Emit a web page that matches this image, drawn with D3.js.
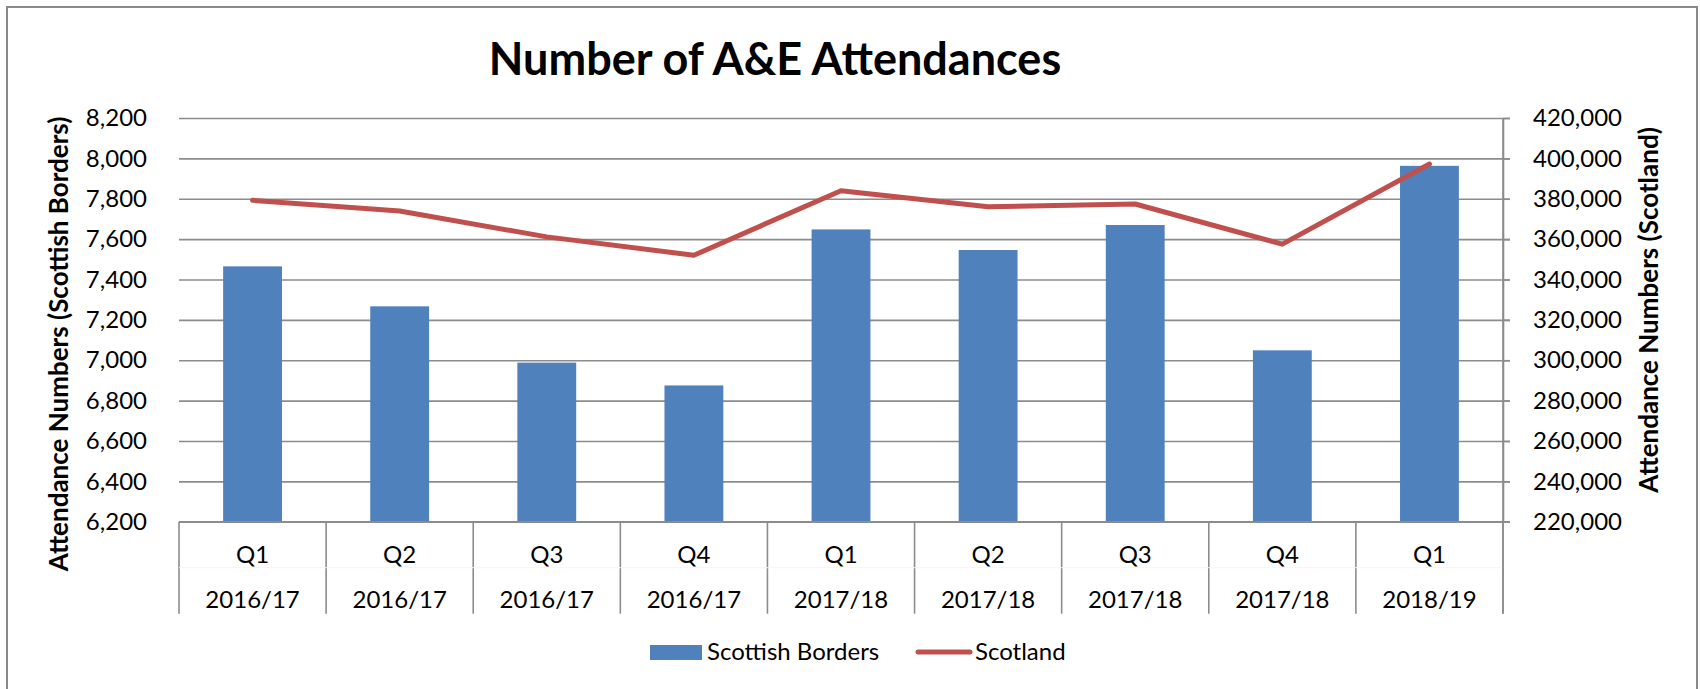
<!DOCTYPE html>
<html>
<head>
<meta charset="utf-8">
<script src="https://cdn.jsdelivr.net/npm/d3@7"></script>
<style>
  body { margin: 0; background: #fff; }
  text { font-family: Lato, "Open Sans", sans-serif; fill: #000; }
</style>
</head>
<body>
<div id="my_dataviz"></div>
<script>
// data
const quarters = ["Q1", "Q2", "Q3", "Q4", "Q1", "Q2", "Q3", "Q4", "Q1"];
const years = ["2016/17", "2016/17", "2016/17", "2016/17", "2017/18", "2017/18", "2017/18", "2017/18", "2018/19"];
const bordersValues = [7465, 7267, 6988, 6875, 7648, 7546, 7670, 7049, 7963];
const scotlandValues = [379200, 373900, 361100, 352000, 384000, 376000, 377400, 357500, 397200];
const leftTicks = [6200, 6400, 6600, 6800, 7000, 7200, 7400, 7600, 7800, 8000, 8200];
const rightTicks = [220000, 240000, 260000, 280000, 300000, 320000, 340000, 360000, 380000, 400000, 420000];

const W = 1700, H = 689;
const margin = { top: 118, right: 197, bottom: 167.3, left: 179 },
    width = W - margin.left - margin.right,
    height = H - margin.top - margin.bottom;

const svg = d3.select("#my_dataviz")
    .append("svg")
    .attr("width", W)
    .attr("height", H);

// chart border
svg.append("rect")
    .attr("x", 7).attr("y", 7)
    .attr("width", W - 10).attr("height", H + 20)
    .attr("fill", "none")
    .attr("stroke", "#898989")
    .attr("stroke-width", 2);

// title
svg.append("text")
    .attr("x", 775).attr("y", 75)
    .attr("text-anchor", "middle")
    .style("font-weight", "bold")
    .style("font-size", "45px")
    .text("Number of A&E Attendances");

const g = svg.append("g")
    .attr("transform", `translate(${margin.left},${margin.top})`);

const keys = quarters.map((q, i) => q + " " + years[i]);

const x = d3.scaleBand()
    .domain(keys)
    .range([0, width])
    .padding(0);

const yL = d3.scaleLinear()
    .domain([6200, 8200])
    .range([height, 0]);

const yR = d3.scaleLinear()
    .domain([220000, 420000])
    .range([height, 0]);

const fmt = d3.format(",");

// gridlines (they run past the right axis as its outer ticks)
g.append("g")
    .attr("class", "grid")
    .call(d3.axisLeft(yL).tickValues(leftTicks).tickSize(-width - 7).tickFormat(""))
    .call(a => a.select(".domain").remove())
    .call(a => a.selectAll("line").attr("stroke", "#8c8c8c").attr("stroke-width", 1.6));

// left axis labels
g.append("g")
    .call(d3.axisLeft(yL).tickValues(leftTicks).tickSize(0).tickPadding(32).tickFormat(fmt))
    .call(a => a.select(".domain").remove())
    .call(a => a.selectAll("text").style("font-size", "24px").style("font-family", "Lato"));

// bars
const barW = x.bandwidth() / 2.5;
g.append("g")
    .selectAll("rect")
    .data(bordersValues)
    .join("rect")
    .attr("x", (d, i) => x(keys[i]) + (x.bandwidth() - barW) / 2)
    .attr("y", d => yL(d))
    .attr("width", barW)
    .attr("height", d => height - yL(d))
    .attr("fill", "#4f81bd");

// category box below the plot
const boxH = 92;
const bounds = keys.map(k => x(k)).concat([width]);
g.append("g")
    .selectAll("line")
    .data(bounds)
    .join("line")
    .attr("x1", d => d).attr("x2", d => d)
    .attr("y1", height).attr("y2", height + boxH)
    .attr("stroke", "#8c8c8c")
    .attr("stroke-width", 1.6);

g.append("line")
    .attr("x1", 0).attr("x2", width)
    .attr("y1", height + 46).attr("y2", height + 46)
    .attr("stroke", "#f4f4f4")
    .attr("stroke-width", 1);

g.append("line")
    .attr("x1", 0).attr("x2", width + 7)
    .attr("y1", height).attr("y2", height)
    .attr("stroke", "#8c8c8c")
    .attr("stroke-width", 1.6);

const cats = g.append("g")
    .selectAll("g")
    .data(keys)
    .join("g")
    .attr("transform", d => `translate(${x(d) + x.bandwidth() / 2},${height})`);

cats.append("text")
    .attr("y", 33)
    .attr("dy", "0.35em")
    .attr("text-anchor", "middle")
    .style("font-size", "24px")
    .text((d, i) => quarters[i]);

cats.append("text")
    .attr("y", 78)
    .attr("dy", "0.35em")
    .attr("text-anchor", "middle")
    .style("font-size", "24px")
    .text((d, i) => years[i]);

// right axis
g.append("g")
    .attr("transform", `translate(${width},0)`)
    .call(d3.axisRight(yR).tickValues(rightTicks).tickSize(7).tickSizeOuter(0).tickPadding(23).tickFormat(fmt))
    .call(a => a.select(".domain").attr("stroke", "#8c8c8c").attr("stroke-width", 1.6))
    .call(a => a.selectAll("line").attr("stroke", "#8c8c8c").attr("stroke-width", 1.6))
    .call(a => a.selectAll("text").style("font-size", "24px").style("font-family", "Lato"));

g.append("line")
    .attr("x1", width).attr("x2", width)
    .attr("y1", 0).attr("y2", height + boxH)
    .attr("stroke", "#8c8c8c")
    .attr("stroke-width", 1.6);

// Scotland line
const line = d3.line()
    .x((d, i) => x(keys[i]) + x.bandwidth() / 2)
    .y(d => yR(d));

g.append("path")
    .datum(scotlandValues)
    .attr("d", line)
    .attr("fill", "none")
    .attr("stroke", "#c0504d")
    .attr("stroke-width", 5)
    .attr("stroke-linejoin", "round")
    .attr("stroke-linecap", "round");

// axis titles
svg.append("text")
    .attr("transform", "translate(59,344) rotate(-90)")
    .attr("text-anchor", "middle")
    .attr("dy", "0.35em")
    .style("font-weight", "bold")
    .style("font-size", "26px")
    .text("Attendance Numbers (Scottish Borders)");

svg.append("text")
    .attr("transform", "translate(1649,310) rotate(-90)")
    .attr("text-anchor", "middle")
    .attr("dy", "0.35em")
    .style("font-weight", "bold")
    .style("font-size", "26px")
    .text("Attendance Numbers (Scotland)");

// legend
const legend = svg.append("g");
legend.append("rect")
    .attr("x", 650).attr("y", 645)
    .attr("width", 52).attr("height", 15)
    .attr("fill", "#4f81bd");
legend.append("text")
    .attr("x", 707).attr("y", 652)
    .attr("dy", "0.35em")
    .style("font-size", "24px")
    .text("Scottish Borders");
legend.append("line")
    .attr("x1", 918).attr("x2", 970)
    .attr("y1", 652).attr("y2", 652)
    .attr("stroke", "#c0504d")
    .attr("stroke-width", 5)
    .attr("stroke-linecap", "round");
legend.append("text")
    .attr("x", 975).attr("y", 652)
    .attr("dy", "0.35em")
    .style("font-size", "24px")
    .text("Scotland");
</script>
</body>
</html>
